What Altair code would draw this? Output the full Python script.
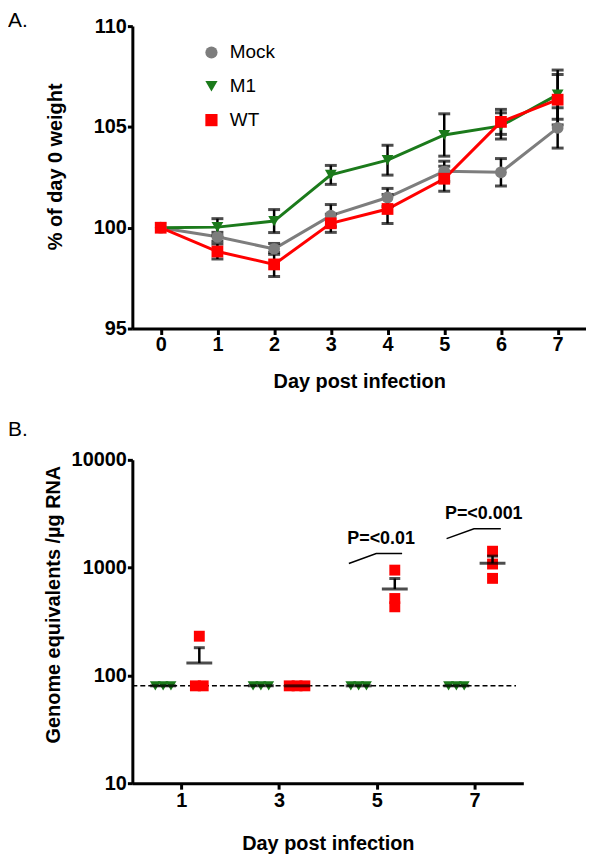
import altair as alt
import pandas as pd

FONT = "Liberation Sans"
GREEN = "#1b7a1b"
RED = "#ff0000"
GRAY = "#7d7d7d"

# ---------------- Panel A data: weight (% of day 0) ----------------
days_a = [0, 1, 2, 3, 4, 5, 6, 7]
groups_a = ["Mock", "M1", "WT"]
mock_mean = [100.0, 99.55, 98.95, 100.6, 101.5, 102.8, 102.75, 104.95]
mock_se = [0.0, 0.22, 0.27, 0.55, 0.45, 0.5, 0.68, 1.0]
m1_mean = [100.0, 100.03, 100.33, 102.62, 103.35, 104.6, 105.05, 106.6]
m1_se = [0.0, 0.42, 0.57, 0.47, 0.74, 1.05, 0.65, 1.22]
wt_mean = [100.0, 98.82, 98.18, 100.22, 100.93, 102.43, 105.25, 106.35]
wt_se = [0.0, 0.37, 0.6, 0.45, 0.72, 0.62, 0.62, 1.25]

# ---------------- Panel B data: genome equivalents ----------------
days_b = [1, 3, 5, 7]
groups_b = ["M1", "WT"]
m1_copies = [[80, 80, 80], [80, 80, 80], [80, 80, 80], [80, 80, 80]]
wt_copies = [[80, 80, 231], [80, 80, 80], [433, 517, 948], [795, 1080, 1420]]
detection_limit = [80]
p_texts = ["P=<0.01", "P=<0.001"]
p_text_day = [5.09, 7.19]
p_text_value = [1858, 3155]
p_line_id = ["p5", "p5", "p5", "p7", "p7", "p7"]
p_line_order = [0, 1, 2, 0, 1, 2]
p_line_day = [4.43, 4.99, 5.52, 6.43, 6.99, 7.54]
p_line_value = [1094, 1352, 1352, 1858, 2296, 2296]

# ---------------- build tables ----------------
rows_a = []
for g, mm, ss in (("Mock", mock_mean, mock_se), ("M1", m1_mean, m1_se), ("WT", wt_mean, wt_se)):
    for d, m, s in zip(days_a, mm, ss):
        rows_a.append({"day": d, "group": g, "mean": m, "se": s})
df_a = pd.DataFrame(rows_a)

rows_b = []
for d, m1v, wtv in zip(days_b, m1_copies, wt_copies):
    for i, v in enumerate(m1v):
        rows_b.append({"day": d, "group": "M1", "rep": i + 1, "value": v})
    for i, v in enumerate(wtv):
        rows_b.append({"day": d, "group": "WT", "rep": i + 1, "value": v})
df_b = pd.DataFrame(rows_b)

df_ptext = pd.DataFrame({"label": p_texts, "day": p_text_day, "value": p_text_value})
df_pline = pd.DataFrame({"id": p_line_id, "ord": p_line_order, "day": p_line_day, "value": p_line_value})
df_lod = pd.DataFrame({"value": detection_limit})

# ---------------- Panel A ----------------
axis_xa = alt.Axis(values=days_a, title="Day post infection", labelPadding=0, titlePadding=17)
axis_ya = alt.Axis(values=[95, 100, 105, 110], title="% of day 0 weight", labelPadding=1, tickSize=5,
                   titleX=-71, titleY=141, titleBaseline="alphabetic")
sx_a = alt.Scale(domain=[-0.5, 7.5], nice=False, zero=False)
sy_a = alt.Scale(domain=[95, 110], nice=False, zero=False)


def xa(f):
    return alt.X(f, type="quantitative", scale=sx_a, axis=axis_xa)


def ya(f):
    return alt.Y(f, type="quantitative", scale=sy_a, axis=axis_ya)


leg_a = alt.Legend(orient="none", legendX=70, legendY=17, title=None, labelFontSize=19,
                   labelFont=FONT, labelColor="black", symbolSize=150, rowPadding=14,
                   labelOffset=9, symbolStrokeWidth=0)
color_a = alt.Color("group:N", scale=alt.Scale(domain=groups_a, range=[GRAY, GREEN, RED]), legend=leg_a)
shape_a = alt.Shape("group:N", scale=alt.Scale(domain=groups_a, range=["circle", "triangle-down", "square"]),
                    legend=leg_a)

base_a = alt.Chart(df_a)
lines_a = base_a.mark_line(strokeWidth=3).encode(x=xa("day"), y=ya("mean"), color=color_a)
err_a = base_a.transform_filter("datum.se > 0").transform_calculate(
    lo="datum.mean - datum.se", hi="datum.mean + datum.se")
rule_a = err_a.mark_rule(strokeWidth=2.5, color="black").encode(x=xa("day"), y=ya("lo"), y2="hi:Q")
caps_a = err_a.transform_fold(["lo", "hi"], as_=["end", "v"]).mark_tick(
    orient="horizontal", size=12, thickness=3, color="black").encode(x=xa("day"), y=ya("v"))
pts_a = base_a.mark_point(filled=True, size=140, opacity=1).encode(
    x=xa("day"), y=ya("mean"), color=color_a, shape=shape_a)

chart_a = alt.layer(lines_a, rule_a, caps_a, pts_a).properties(
    width=456, height=304,
    title=alt.TitleParams("A.", anchor="start", frame="group", dx=-125, dy=25, offset=10))

# ---------------- Panel B ----------------
axis_xb = alt.Axis(values=days_b, title="Day post infection", labelPadding=1, titlePadding=24)
axis_yb = alt.Axis(values=[10, 100, 1000, 10000], format="d", title="Genome equivalents /µg  RNA",
                   labelPadding=1, tickSize=5, titleX=-73, titleY=145, titleBaseline="alphabetic")
sx_b = alt.Scale(domain=[0, 8], nice=False, zero=False)
sy_b = alt.Scale(type="log", domain=[10, 10000], nice=False)


def xb(f):
    return alt.X(f, type="quantitative", scale=sx_b, axis=axis_xb)


def yb(f):
    return alt.Y(f, type="quantitative", scale=sy_b, axis=axis_yb)


leg_b = alt.Legend(orient="none", legendX=35, legendY=17, title=None, labelFontSize=19,
                   labelFont=FONT, labelColor="black", symbolSize=110, rowPadding=9,
                   labelOffset=10, symbolStrokeWidth=0)
color_b = alt.Color("group:N", scale=alt.Scale(domain=groups_b, range=[GREEN, RED]), legend=leg_b)
shape_b = alt.Shape("group:N", scale=alt.Scale(domain=groups_b, range=["triangle-down", "square"]), legend=leg_b)

offset_expr = "datum.day + (datum.group == 'M1' ? -0.37 : 0.37)"

lod_b = alt.Chart(df_lod).mark_rule(strokeDash=[5, 3], strokeWidth=1.5, color="black").encode(
    y=yb("value"), x=alt.datum(0), x2=alt.datum(7.85))

pts_b = alt.Chart(df_b).transform_joinaggregate(
    n="count()", groupby=["day", "group", "value"]
).transform_window(
    k="row_number()", groupby=["day", "group", "value"]
).transform_calculate(
    xpos=offset_expr + " + (datum.k - (datum.n + 1) / 2) * 0.16"
).mark_point(filled=True, size=120, opacity=1).encode(
    x=xb("xpos"), y=yb("value"), color=color_b, shape=shape_b)

stats_b = alt.Chart(df_b).transform_aggregate(
    m="mean(value)", se="stderr(value)", groupby=["day", "group"]
).transform_calculate(xpos=offset_expr, hi="datum.m + datum.se")

mean_b = stats_b.mark_tick(orient="horizontal", size=26, thickness=3, color="black").encode(
    x=xb("xpos"), y=yb("m"))
errs_b = stats_b.transform_filter("datum.se > 0")
erule_b = errs_b.mark_rule(strokeWidth=2.5, color="black").encode(x=xb("xpos"), y=yb("m"), y2="hi:Q")
ecap_b = errs_b.mark_tick(orient="horizontal", size=11, thickness=3, color="black").encode(
    x=xb("xpos"), y=yb("hi"))

plines_b = alt.Chart(df_pline).mark_line(strokeWidth=1.5, color="black").encode(
    x=xb("day"), y=yb("value"), detail="id:N", order="ord:Q")
ptext_b = alt.Chart(df_ptext).mark_text(font=FONT, fontSize=18, fontWeight="bold", color="black",
                                        baseline="middle").encode(
    x=xb("day"), y=yb("value"), text="label:N")

chart_b = alt.layer(lod_b, pts_b, mean_b, erule_b, ecap_b, plines_b, ptext_b).properties(
    width=393, height=325,
    title=alt.TitleParams("B.", anchor="start", frame="group", dx=-125, offset=10))

chart = alt.vconcat(chart_a, chart_b, spacing=28).properties(
    padding={"left": 0, "top": 0, "right": 0, "bottom": 0}
).configure(font=FONT).configure_view(stroke=None).configure_axis(
    domainColor="black", domainWidth=3, tickColor="black", tickWidth=3, tickSize=6,
    labelFont=FONT, labelFontSize=20, labelFontWeight="bold", labelColor="black",
    titleFont=FONT, titleFontSize=20, titleFontWeight="bold", titleColor="black",
    grid=False, labelFlush=False, labelOverlap=False
).configure_title(font=FONT, fontSize=21, fontWeight="normal", color="black")

chart.save("out.html", embed_options={"renderer": "svg", "actions": False})
